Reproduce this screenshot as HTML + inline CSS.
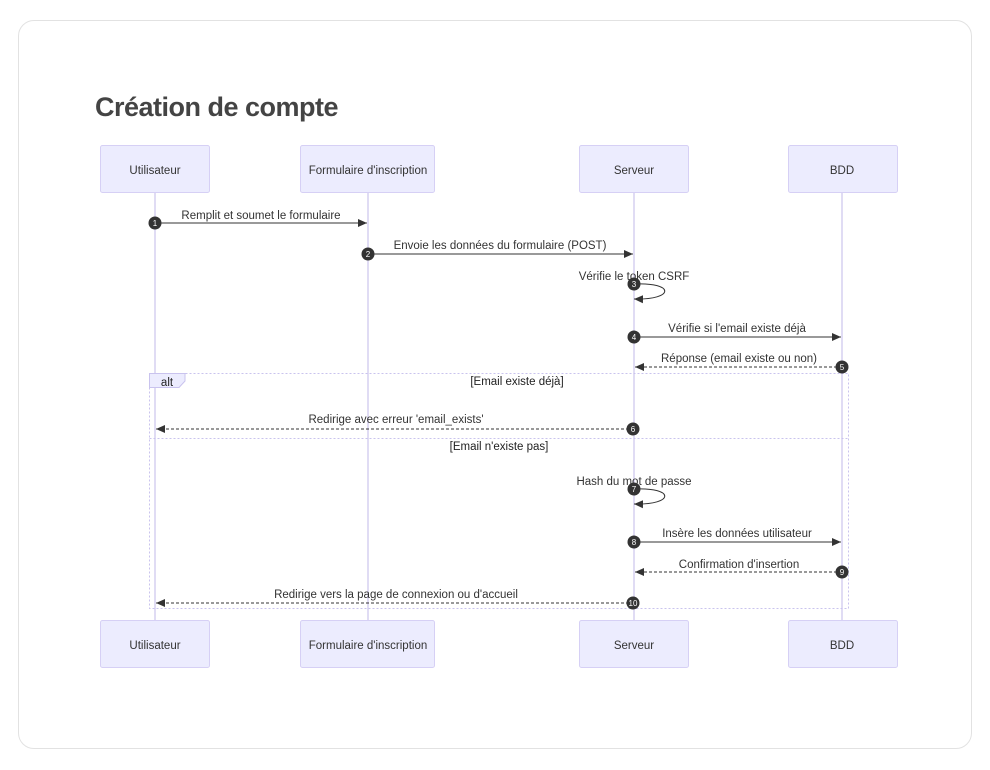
<!DOCTYPE html>
<html><head><meta charset="utf-8"><style>
html,body{margin:0;padding:0;background:#fff;}
body{width:990px;height:770px;overflow:hidden;position:relative;font-family:"Liberation Sans",sans-serif;}
.card{position:absolute;left:18px;top:20px;width:954px;height:729px;border:1px solid #e2e2e2;border-radius:16px;box-sizing:border-box;}
.title{position:absolute;left:95px;top:92px;font-size:27px;font-weight:bold;color:#444;letter-spacing:-0.5px;}
svg{position:absolute;left:0;top:0;}
</style></head><body>
<div class="card"></div>
<div class="title">Création de compte</div>
<svg width="990" height="770" font-family="Liberation Sans, sans-serif">
<defs>
<marker id="a" markerWidth="10" markerHeight="10" refX="9" refY="5" orient="auto" markerUnits="userSpaceOnUse"><path d="M0,1 L9,5 L0,9 z" fill="#333"/></marker>
</defs>
<g stroke="#d6d0f0" stroke-width="1.5">
<line x1="155" y1="192" x2="155" y2="620"/>
<line x1="368" y1="192" x2="368" y2="620"/>
<line x1="634" y1="192" x2="634" y2="620"/>
<line x1="842" y1="192" x2="842" y2="620"/>
</g>
<g fill="#ececfe" stroke="#d6d0f5" stroke-width="1">
<rect x="100.5" y="145.5" width="109" height="47" rx="2"/>
<rect x="300.5" y="145.5" width="134" height="47" rx="2"/>
<rect x="579.5" y="145.5" width="109" height="47" rx="2"/>
<rect x="788.5" y="145.5" width="109" height="47" rx="2"/>
<rect x="100.5" y="620.5" width="109" height="47" rx="2"/>
<rect x="300.5" y="620.5" width="134" height="47" rx="2"/>
<rect x="579.5" y="620.5" width="109" height="47" rx="2"/>
<rect x="788.5" y="620.5" width="109" height="47" rx="2"/>
</g>
<g font-size="11.5" fill="#333" text-anchor="middle">
<text x="155" y="174">Utilisateur</text><text x="368" y="174">Formulaire d'inscription</text>
<text x="634" y="174">Serveur</text><text x="842" y="174">BDD</text>
<text x="155" y="649">Utilisateur</text><text x="368" y="649">Formulaire d'inscription</text>
<text x="634" y="649">Serveur</text><text x="842" y="649">BDD</text>
</g>
<g stroke="#c9c3ee" stroke-width="1" fill="none" stroke-dasharray="2,2">
<rect x="149.5" y="373.5" width="699" height="235"/>
<line x1="149.5" y1="438.5" x2="848.5" y2="438.5"/>
</g>
<path d="M149.5,373.5 H185 V381 L179,387.5 H149.5 z" fill="#ececfe" stroke="#c9c3ee"/>
<text x="167" y="386" font-size="11.5" text-anchor="middle" fill="#222">alt</text>
<text x="517" y="385" font-size="11.5" text-anchor="middle" fill="#222">[Email existe déjà]</text>
<text x="499" y="450" font-size="11.5" text-anchor="middle" fill="#222">[Email n'existe pas]</text>
<g stroke="#333" stroke-width="1" fill="none">
<line x1="155" y1="223" x2="367" y2="223" marker-end="url(#a)"/>
<line x1="368" y1="254" x2="633" y2="254" marker-end="url(#a)"/>
<path d="M634,284 C675,282 675,300 634,299" marker-end="url(#a)"/>
<line x1="634" y1="337" x2="841" y2="337" marker-end="url(#a)"/>
<line x1="842" y1="367" x2="635" y2="367" stroke-dasharray="3,2" marker-end="url(#a)"/>
<line x1="634" y1="429" x2="156" y2="429" stroke-dasharray="3,2" marker-end="url(#a)"/>
<path d="M634,489 C675,487 675,505 634,504" marker-end="url(#a)"/>
<line x1="634" y1="542" x2="841" y2="542" marker-end="url(#a)"/>
<line x1="842" y1="572" x2="635" y2="572" stroke-dasharray="3,2" marker-end="url(#a)"/>
<line x1="634" y1="603" x2="156" y2="603" stroke-dasharray="3,2" marker-end="url(#a)"/>
</g>
<g font-size="11.5" fill="#333" text-anchor="middle">
<text x="261" y="219">Remplit et soumet le formulaire</text>
<text x="500" y="249">Envoie les données du formulaire (POST)</text>
<text x="634" y="280">Vérifie le token CSRF</text>
<text x="737" y="332">Vérifie si l'email existe déjà</text>
<text x="739" y="362">Réponse (email existe ou non)</text>
<text x="396" y="423">Redirige avec erreur 'email_exists'</text>
<text x="634" y="485">Hash du mot de passe</text>
<text x="737" y="537">Insère les données utilisateur</text>
<text x="739" y="568">Confirmation d'insertion</text>
<text x="396" y="598">Redirige vers la page de connexion ou d'accueil</text>
</g>
<g fill="#333">
<circle cx="155" cy="223" r="6.5"/><circle cx="368" cy="254" r="6.5"/><circle cx="634" cy="284" r="6.5"/>
<circle cx="634" cy="337" r="6.5"/><circle cx="842" cy="367" r="6.5"/><circle cx="633" cy="429" r="6.5"/>
<circle cx="634" cy="489" r="6.5"/><circle cx="634" cy="542" r="6.5"/><circle cx="842" cy="572" r="6.5"/>
<circle cx="633" cy="603" r="6.5"/>
</g>
<g font-size="8" fill="#fff" text-anchor="middle">
<text x="155" y="226">1</text><text x="368" y="257">2</text><text x="634" y="287">3</text>
<text x="634" y="340">4</text><text x="842" y="370">5</text><text x="633" y="432">6</text>
<text x="634" y="492">7</text><text x="634" y="545">8</text><text x="842" y="575">9</text>
<text x="633" y="606">10</text>
</g>
</svg>
</body></html>
